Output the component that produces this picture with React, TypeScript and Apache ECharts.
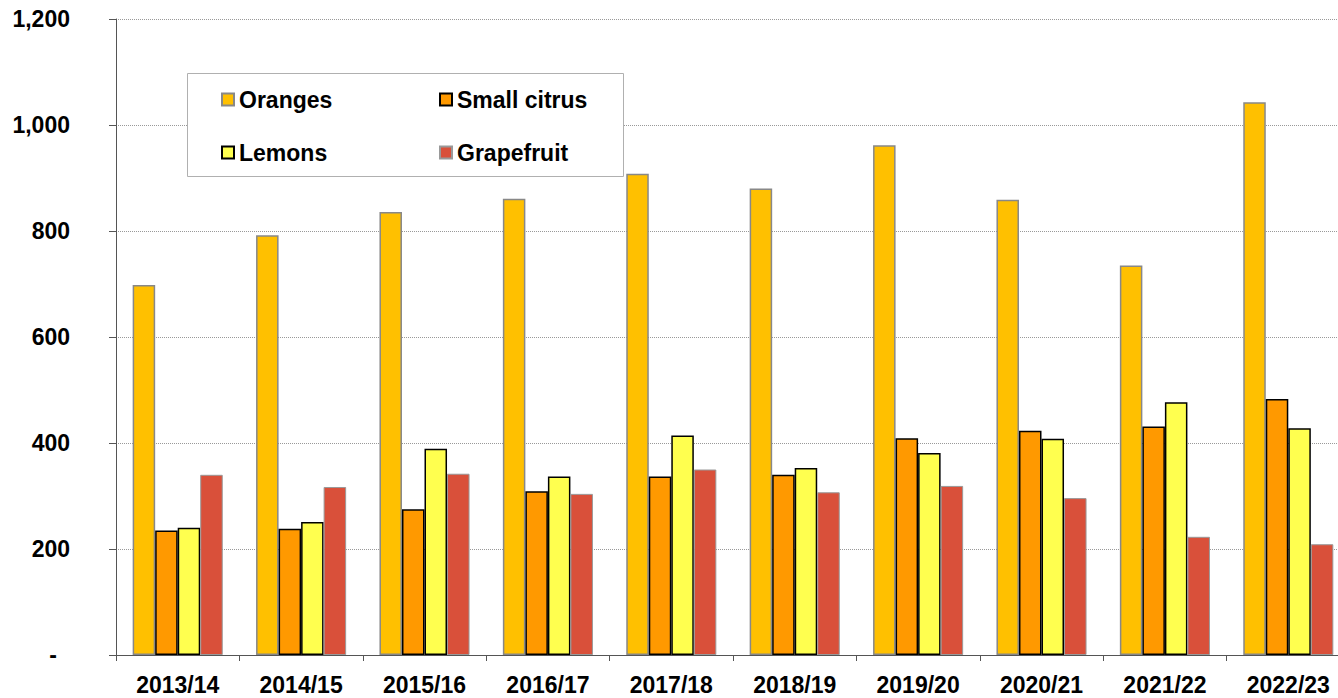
import React, { useEffect, useRef } from "react";
import * as echarts from "echarts";

const categories = ["2013/14", "2014/15", "2015/16", "2016/17", "2017/18", "2018/19", "2019/20", "2020/21", "2021/22", "2022/23"];
const oranges = [698, 792, 836, 861, 908, 880, 962, 859, 735, 1043];
const smallCitrus = [235, 238, 275, 309, 337, 340, 409, 423, 431, 483];
const lemons = [240, 251, 389, 337, 414, 353, 381, 408, 477, 428];
const grapefruit = [340, 317, 342, 304, 350, 307, 319, 296, 223, 209];
const yTicks = { min: 0, max: 1200, interval: 200 };

const FONT = "'Liberation Sans', Arial, sans-serif";
const FS = 23;

export default function App() {
  const ref = useRef<HTMLDivElement>(null);
  useEffect(() => {
    if (!ref.current) return;
    const chart = echarts.init(ref.current, undefined, { renderer: "svg" });
    const bar = (name: string, data: number[], color: string, border: string, bw: number) => ({
      name,
      type: "bar",
      data,
      barGap: "0%",
      barCategoryGap: "27%",
      itemStyle: { color, borderColor: border, borderWidth: bw },
    });
    const legendText = { fontFamily: FONT, fontWeight: "bold", fontSize: FS, color: "#000", lineHeight: 22 };
    chart.setOption({
      animation: false,
      backgroundColor: "#fff",
      grid: { left: 116, top: 19, bottom: 43, right: 0, containLabel: false },
      legend: [
        {
          data: ["Oranges", "Lemons"],
          orient: "vertical",
          left: 221,
          top: 88,
          padding: 0,
          itemWidth: 12,
          itemHeight: 12,
          itemGap: 30,
          icon: "rect",
          textStyle: legendText,
          z: 10,
        },
        {
          data: ["Small citrus", "Grapefruit"],
          orient: "vertical",
          left: 439,
          top: 88,
          padding: 0,
          itemWidth: 12,
          itemHeight: 12,
          itemGap: 30,
          icon: "rect",
          textStyle: legendText,
          z: 10,
        },
      ],
      graphic: [
        {
          type: "rect",
          z: 5,
          shape: { x: 187.5, y: 73.5, width: 436, height: 103 },
          style: { fill: "#fff", stroke: "#b0b0b0", lineWidth: 1 },
        },
      ],
      xAxis: {
        type: "category",
        data: categories,
        axisLine: { lineStyle: { color: "#555", width: 1 } },
        axisTick: { show: true, length: 6, lineStyle: { color: "#555" } },
        axisLabel: { fontFamily: FONT, fontWeight: "bold", fontSize: FS, color: "#000", margin: 18 },
        splitLine: { show: false },
      },
      yAxis: {
        type: "value",
        min: yTicks.min,
        max: yTicks.max,
        interval: yTicks.interval,
        axisLine: { show: true, lineStyle: { color: "#555", width: 1 } },
        axisTick: { show: true, length: 7, lineStyle: { color: "#555" } },
        axisLabel: {
          fontFamily: FONT,
          fontWeight: "bold",
          fontSize: FS,
          color: "#000",
          margin: 46,
          formatter: (v: number) => (v === 0 ? "{z|-}" : v.toLocaleString("en-US")),
          rich: { z: { fontFamily: FONT, fontWeight: "bold", fontSize: FS, color: "#000", padding: [0, 13, 0, 0] } },
        },
        splitLine: { show: true, lineStyle: { color: "#999", type: "dotted", width: 1 } },
      },
      series: [
        bar("Oranges", oranges, "#FFC000", "#888888", 1.5),
        bar("Small citrus", smallCitrus, "#FF9900", "#000000", 1.5),
        bar("Lemons", lemons, "#FFFF4F", "#000000", 1.5),
        bar("Grapefruit", grapefruit, "#D9503A", "#999999", 1),
      ],
    });
    return () => chart.dispose();
  }, []);
  return <div ref={ref} style={{ position: "fixed", left: 0, top: 0, width: 1350, height: 698 }} />;
}
